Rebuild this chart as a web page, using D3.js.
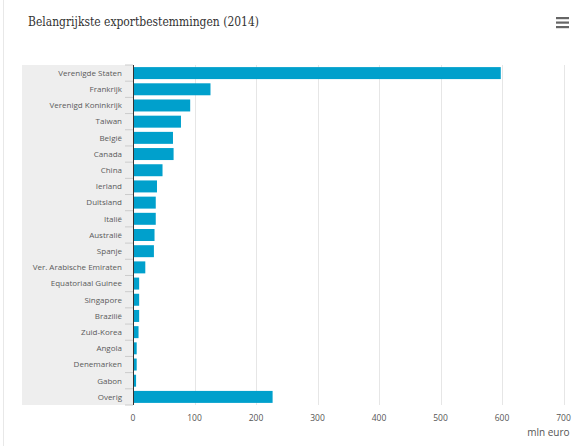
<!DOCTYPE html>
<html>
<head>
<meta charset="utf-8">
<script src="https://cdn.jsdelivr.net/npm/d3@7"></script>
<style>
  body { margin: 0; background: #fff; }
  svg { display: block; }
</style>
</head>
<body>
<div id="chart"></div>
<script>
// data
var countries = ["Verenigde Staten", "Frankrijk", "Verenigd Koninkrijk", "Taiwan", "België", "Canada",
  "China", "Ierland", "Duitsland", "Italië", "Australië", "Spanje", "Ver. Arabische Emiraten",
  "Equatoriaal Guinee", "Singapore", "Brazilië", "Zuid-Korea", "Angola", "Denemarken", "Gabon", "Overig"];
var exportValues = [598, 126, 93, 78, 65, 66, 48, 39, 37, 37, 35, 34, 20, 10, 10, 10, 9, 6, 6, 5, 227];
var xTicks = [0, 100, 200, 300, 400, 500, 600, 700];

var svgWidth = 576;
var svgHeight = 446;

var margin = { top: 65, right: 12.5, bottom: 41, left: 133 };
var width = svgWidth - margin.left - margin.right;
var height = svgHeight - margin.top - margin.bottom;

var svg = d3.select("#chart")
  .append("svg")
  .attr("width", svgWidth)
  .attr("height", svgHeight);

svg.append("rect")
  .attr("width", svgWidth).attr("height", svgHeight)
  .attr("fill", "#fff");

// light frame on the left
svg.append("line")
  .attr("x1", 3.5).attr("x2", 3.5)
  .attr("y1", 0).attr("y2", svgHeight)
  .attr("stroke", "#e8e8e8");

// title
svg.append("text")
  .attr("x", 28).attr("y", 26)
  .attr("font-family", "DejaVu Serif, serif")
  .attr("font-size", "12.5px")
  .attr("textLength", 231)
  .attr("lengthAdjust", "spacingAndGlyphs")
  .attr("fill", "#333")
  .text("Belangrijkste exportbestemmingen (2014)");

// menu icon
[18, 22.5, 27].forEach(function(y) {
  svg.append("rect")
    .attr("x", 556).attr("y", y - 1)
    .attr("width", 13).attr("height", 2.2)
    .attr("fill", "#666");
});

var chartGroup = svg.append("g")
  .attr("transform", `translate(${margin.left}, ${margin.top})`);

var xScale = d3.scaleLinear()
  .domain([0, 700])
  .range([0, width]);

var yScale = d3.scaleBand()
  .domain(countries)
  .range([0, height])
  .paddingInner(0.26)
  .paddingOuter(0.13);

// grey band behind labels
chartGroup.append("rect")
  .attr("x", 22 - margin.left)
  .attr("y", 0)
  .attr("width", margin.left - 22)
  .attr("height", height)
  .attr("fill", "#eeeeee");

// gridlines
chartGroup.append("g")
  .selectAll("line")
  .data(xTicks.slice(1))
  .enter()
  .append("line")
  .attr("x1", d => Math.round(xScale(d)) + 0.5)
  .attr("x2", d => Math.round(xScale(d)) + 0.5)
  .attr("y1", 0)
  .attr("y2", height)
  .attr("stroke", "#e6e6e6");

// category tick marks
chartGroup.append("g")
  .selectAll("line")
  .data(d3.range(countries.length + 1))
  .enter()
  .append("line")
  .attr("x1", -8).attr("x2", 0)
  .attr("y1", d => d * (height / countries.length))
  .attr("y2", d => d * (height / countries.length))
  .attr("stroke", "#cccccc");

// bars
chartGroup.selectAll("rect.bar")
  .data(countries)
  .enter()
  .append("rect")
  .classed("bar", true)
  .attr("x", 0)
  .attr("y", d => yScale(d))
  .attr("width", (d, i) => xScale(exportValues[i]))
  .attr("height", yScale.bandwidth())
  .attr("fill", "#00a0cc");

// axis line
chartGroup.append("line")
  .attr("x1", 0.5).attr("x2", 0.5)
  .attr("y1", 0).attr("y2", height)
  .attr("stroke", "#333")
  .attr("stroke-width", 1);

// category labels
chartGroup.selectAll("text.cat")
  .data(countries)
  .enter()
  .append("text")
  .classed("cat", true)
  .attr("x", -11)
  .attr("y", d => yScale(d) + yScale.bandwidth() / 2)
  .attr("dy", "0.35em")
  .attr("text-anchor", "end")
  .attr("font-family", "Open Sans, sans-serif")
  .attr("font-size", "8px")
  .attr("fill", "#5a5a5a")
  .text(d => d);

// x tick labels
chartGroup.selectAll("text.xt")
  .data(xTicks)
  .enter()
  .append("text")
  .classed("xt", true)
  .attr("x", d => xScale(d))
  .attr("y", height + 16)
  .attr("text-anchor", "middle")
  .attr("font-family", "Open Sans, sans-serif")
  .attr("font-size", "8.5px")
  .attr("fill", "#555")
  .text(d => d);

// x axis title
chartGroup.append("text")
  .attr("x", width + 6)
  .attr("y", height + 31)
  .attr("text-anchor", "end")
  .attr("font-family", "Open Sans, sans-serif")
  .attr("font-size", "10px")
  .attr("fill", "#555")
  .text("mln euro");
</script>
</body>
</html>
